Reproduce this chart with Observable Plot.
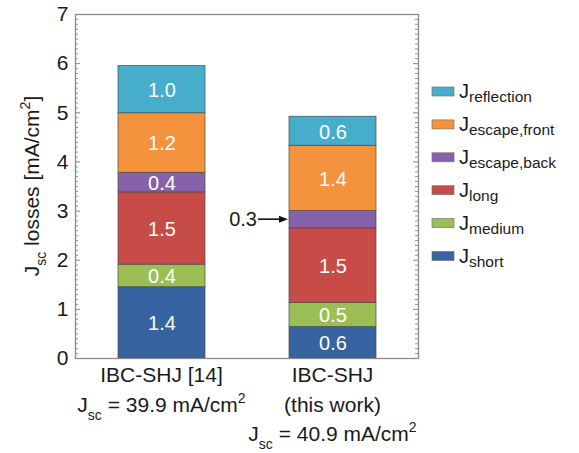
<!DOCTYPE html>
<html><head><meta charset="utf-8">
<script src="https://cdn.jsdelivr.net/npm/d3@7"></script>
<script src="https://cdn.jsdelivr.net/npm/@observablehq/plot@0.6"></script>
<style>
body{margin:0;background:#fff;}
#chart{position:relative;width:579px;height:453px;}
</style>
</head><body><div id="chart"></div>
<script>
// ---- data ----
const bars = ["ref14", "thisWork"];
const components = ["short", "medium", "long", "escape,back", "escape,front", "reflection"];
const colors = ["#3863a1", "#9bbf54", "#c74c47", "#8561aa", "#f5923e", "#46aecb"];
const valuesRef14 = [1.45, 0.46, 1.47, 0.40, 1.21, 0.96];
const valuesThisWork = [0.64, 0.49, 1.52, 0.35, 1.33, 0.59];
const labelsRef14 = ["1.4", "0.4", "1.5", "0.4", "1.2", "1.0"];
const labelsThisWork = ["0.6", "0.5", "1.5", "", "1.4", "0.6"];
const annotation = {bar: "thisWork", component: "escape,back", text: "0.3"};
const yTicks = [0, 1, 2, 3, 4, 5, 6, 7];
const yMinorTicks = d3.range(0, 70).map(i => i / 10).filter((d, i) => i % 10 !== 0);
const xTickLabels = {
  ref14: ["IBC-SHJ [14]", "J_{sc} = 39.9 mA/cm^{2}"],
  thisWork: ["IBC-SHJ", "(this work)", "J_{sc} = 40.9 mA/cm^{2}"]
};
const yLabel = "J_{sc} losses [mA/cm^{2}]";
const legendLabels = ["J_{reflection}", "J_{escape,front}", "J_{escape,back}", "J_{long}", "J_{medium}", "J_{short}"];
const legendOrder = ["reflection", "escape,front", "escape,back", "long", "medium", "short"];

const valuesByBar = {ref14: valuesRef14, thisWork: valuesThisWork};
const labelsByBar = {ref14: labelsRef14, thisWork: labelsThisWork};
const data = bars.flatMap(b => components.map((c, i) => ({bar: b, component: c, value: valuesByBar[b][i], label: labelsByBar[b][i]})));

const W = 579, H = 453, mL = 75, mR = 161, mT = 14, mB = 95;
const innerW = W - mL - mR;
const font = "Liberation Sans, Arial, Helvetica, sans-serif";

const plot = Plot.plot({
  width: W, height: H,
  marginLeft: mL, marginRight: mR, marginTop: mT, marginBottom: mB,
  style: {fontFamily: font, color: "#1a1a1a", background: "#fff"},
  x: {domain: bars, paddingInner: 0.494, paddingOuter: 0.245, axis: null},
  y: {domain: [0, 7]},
  color: {domain: components, range: colors},
  marks: [
    Plot.barY(data, {x: "bar", y: "value", fill: "component", stroke: "#4a4a4a", strokeWidth: 0.7}),
    Plot.text(data, Plot.stackY({x: "bar", y: "value", z: "component", text: "label", fill: "white", fontSize: 20, dy: 1})),
    Plot.tickY(yMinorTicks, {y: d => d, stroke: "#777", strokeWidth: 0.8, insetRight: innerW - 3}),
    Plot.tickY(yMinorTicks, {y: d => d, stroke: "#777", strokeWidth: 0.8, insetLeft: innerW - 3}),
    Plot.tickY(yTicks, {y: d => d, stroke: "#777", strokeWidth: 0.9, insetRight: innerW - 5}),
    Plot.tickY(yTicks, {y: d => d, stroke: "#777", strokeWidth: 0.9, insetLeft: innerW - 5}),
    Plot.axisY({ticks: yTicks, tickSize: 0, tickPadding: 7, fontSize: 21, tickFormat: d3.format("d"), label: null}),
    Plot.frame({stroke: "#8a8a8a", strokeWidth: 1.3})
  ]
});
document.getElementById("chart").appendChild(plot);

const svg = d3.select(plot);
const xs = plot.scale("x"), ys = plot.scale("y"), cs = plot.scale("color");
const bw = xs.bandwidth;

function rich(sel, str, mainSize, subSize, subShift, supShift) {
  const parts = str.split(/(_\{[^}]*\}|\^\{[^}]*\})/).filter(s => s);
  let cur = 0;
  for (const p of parts) {
    let t = p, off = 0, size = mainSize;
    if (p.startsWith("_{")) { t = p.slice(2, -1); off = subShift; size = subSize; }
    else if (p.startsWith("^{")) { t = p.slice(2, -1); off = -supShift; size = subSize; }
    sel.append("tspan").attr("dy", off - cur).attr("font-size", size).text(t);
    cur = off;
  }
}

const g = svg.append("g").attr("font-family", font).attr("fill", "#1a1a1a").style("white-space", "pre");

// x tick labels
for (const b of bars) {
  const cx = xs.apply(b) + bw / 2;
  xTickLabels[b].forEach((line, i) => {
    const t = g.append("text").attr("x", cx).attr("y", ys.apply(0) + 24 + i * 29.5).attr("text-anchor", "middle").attr("font-size", 21);
    rich(t, line, 21, 14, 8, 9);
  });
}

// y label
{
  const cy = (ys.apply(0) + ys.apply(7)) / 2;
  const t = g.append("text").attr("transform", `translate(39,${cy}) rotate(-90)`).attr("text-anchor", "middle").attr("font-size", 21);
  rich(t, yLabel, 21, 14, 7, 9);
}

// annotation arrow
{
  const idx = components.indexOf(annotation.component);
  const vals = valuesByBar[annotation.bar];
  const below = d3.sum(vals.slice(0, idx));
  const yMid = ys.apply(below + vals[idx] / 2);
  const tipX = xs.apply(annotation.bar) - 1;
  const tailX = tipX - 30;
  g.append("line").attr("x1", tailX).attr("x2", tipX - 6).attr("y1", yMid).attr("y2", yMid).attr("stroke", "#111").attr("stroke-width", 1.6);
  g.append("path").attr("d", `M${tipX},${yMid} L${tipX - 9},${yMid - 3.5} L${tipX - 9},${yMid + 3.5} Z`).attr("fill", "#111");
  g.append("text").attr("x", tailX - 1).attr("y", yMid).attr("dy", "0.35em").attr("text-anchor", "end").attr("font-size", 20).text(annotation.text);
}

// legend
legendOrder.forEach((c, i) => {
  const y = 91.5 + i * 32.9;
  g.append("rect").attr("x", 432).attr("y", y - 4.5).attr("width", 22).attr("height", 9).attr("fill", cs.apply(c)).attr("stroke", "#777").attr("stroke-width", 0.7);
  const t = g.append("text").attr("x", 459).attr("y", y + 6.5).attr("text-anchor", "start").attr("font-size", 20);
  rich(t, legendLabels[i], 20, 15.5, 4, 8);
});
</script>
</body></html>
